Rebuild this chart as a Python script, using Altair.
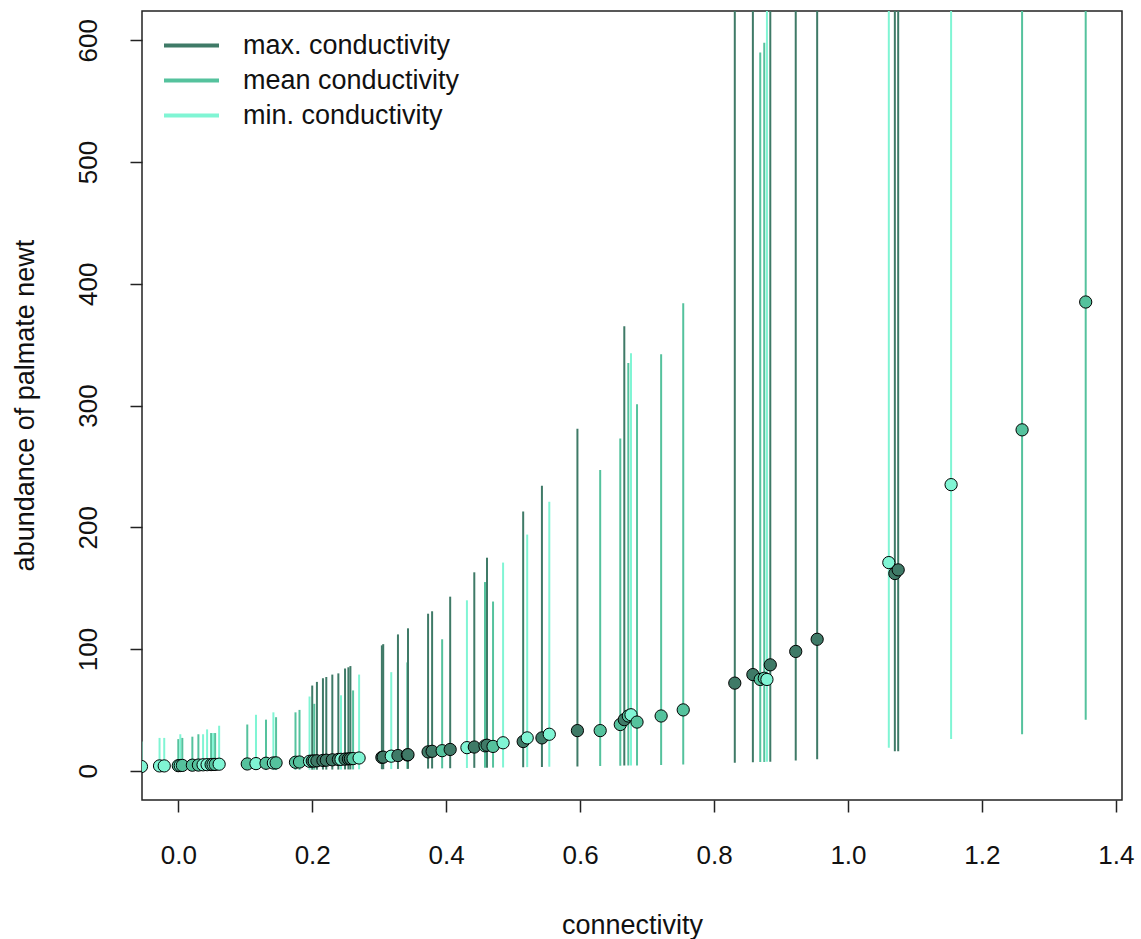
import altair as alt
import pandas as pd

# Predicted palmate newt abundance along connectivity, with interval bounds,
# for the three conductivity scenarios.
connectivity = [
    -0.055, -0.028, -0.021, 0.000, 0.003, 0.006, 0.021, 0.030, 0.037, 0.043, 0.049, 0.052, 0.055, 0.061,
    0.103, 0.116, 0.131, 0.142, 0.146,
    0.175, 0.181, 0.196, 0.200, 0.203, 0.207, 0.216, 0.221, 0.230, 0.239, 0.243, 0.249, 0.254, 0.257, 0.261, 0.270,
    0.304, 0.306, 0.318, 0.328, 0.342, 0.343,
    0.373, 0.379, 0.394, 0.406,
    0.431, 0.442, 0.458, 0.461, 0.470, 0.485,
    0.515, 0.521, 0.543, 0.554,
    0.596, 0.630, 0.660, 0.666, 0.672, 0.676, 0.685, 0.721, 0.754,
    0.831, 0.858, 0.869, 0.875, 0.879, 0.884, 0.922, 0.954,
    1.061, 1.070, 1.075, 1.154, 1.260, 1.355,
]
fitted = [
    3.5, 4.0, 4.0, 4.2, 4.3, 4.4, 4.6, 4.7, 4.9, 5.0, 5.1, 5.2, 5.2, 5.4,
    5.6, 5.9, 6.2, 6.4, 6.5,
    7.0, 7.2, 7.8, 8.0, 8.0, 8.2, 8.5, 8.7, 9.0, 9.3, 9.4, 9.6, 9.8, 9.9, 10.0, 10.5,
    11.0, 11.2, 12.0, 12.5, 13.0, 13.2,
    15.5, 16.0, 16.5, 17.5,
    19.0, 19.5, 20.5, 21.0, 20.0, 23.0,
    24.0, 27.0, 27.0, 30.0,
    33.0, 33.0, 38.0, 42.0, 45.0, 46.0, 40.0, 45.0, 50.0,
    72.0, 79.0, 75.0, 76.0, 75.0, 87.0, 98.0, 108.0,
    171.0, 162.0, 165.0, 235.0, 280.0, 385.0,
]
lower = [
    0.4, 0.4, 0.4, 0.4, 0.4, 0.4, 0.4, 0.4, 0.4, 0.4, 0.4, 0.4, 0.4, 0.4,
    0.6, 0.6, 0.6, 0.6, 0.6,
    0.8, 0.8, 0.9, 0.9, 0.9, 0.9, 1.0, 1.0, 1.0, 1.0, 1.0, 1.1, 1.1, 1.1, 1.1, 1.2,
    1.3, 1.3, 1.4, 1.5, 1.6, 1.6,
    1.8, 1.9, 2.0, 2.1,
    2.3, 2.4, 2.5, 2.5, 2.6, 2.7,
    2.9, 3.0, 3.2, 3.3,
    3.6, 3.9, 4.2, 4.3, 4.3, 4.4, 4.4, 4.8, 5.2,
    6.5, 7.0, 7.2, 7.3, 7.4, 7.5, 8.5, 9.5,
    19.0, 16.0, 16.0, 26.0, 30.0, 42.0,
]
upper = [
    24, 27, 27, 26, 30, 27, 28, 30, 30, 34, 31, 31, 31, 37,
    38, 46, 42, 48, 44,
    48, 50, 61, 70, 55, 73, 76, 77, 79, 80, 62, 84, 85, 86, 66, 79,
    103, 104, 81, 112, 89, 117,
    129, 131, 108, 143,
    140, 163, 155, 175, 139, 171,
    213, 194, 234, 221,
    281, 247, 273, 365, 335, 343, 301, 342, 384,
    1000, 1000, 590, 598, 1000, 1000, 1000, 1000,
    1000, 1000, 1000, 1000, 1000, 1000,
]
conductivity = [
    "min", "min", "min", "mean", "min", "mean", "mean", "mean", "min", "min", "mean", "min", "mean", "min",
    "mean", "min", "mean", "min", "mean",
    "mean", "mean", "min", "max", "mean", "max", "max", "max", "max", "max", "min", "max", "max", "max", "mean", "min",
    "max", "max", "min", "max", "mean", "max",
    "max", "max", "mean", "max",
    "min", "max", "mean", "max", "mean", "min",
    "max", "min", "max", "min",
    "max", "mean", "mean", "max", "mean", "min", "mean", "mean", "mean",
    "max", "max", "mean", "mean", "min", "max", "max", "max",
    "min", "max", "max", "min", "mean", "mean",
]

series_labels = {
    "max": "max. conductivity",
    "mean": "mean conductivity",
    "min": "min. conductivity",
}
series_order = ["max. conductivity", "mean conductivity", "min. conductivity"]
series_colors = ["#3f7a67", "#55c29d", "#80f5d4"]

df = pd.DataFrame({
    "connectivity": connectivity,
    "fitted": fitted,
    "lower": lower,
    "upper": upper,
    "series": [series_labels[c] for c in conductivity],
})

FONT = "Liberation Sans, Arial, sans-serif"

x_scale = alt.Scale(domain=[-0.0542, 1.4092], nice=False, zero=False)
y_scale = alt.Scale(domain=[-24, 624], nice=False, zero=False)
color_scale = alt.Scale(domain=series_order, range=series_colors)

x_axis = alt.Axis(
    values=[0.0, 0.2, 0.4, 0.6, 0.8, 1.0, 1.2, 1.4],
    format=".1f",
    domain=False,
    grid=False,
    tickSize=12,
    tickWidth=1.5,
    tickColor="#222222",
    labelFontSize=26,
    labelFont=FONT,
    labelColor="#111111",
    labelPadding=43,
    labelBaseline="middle",
    labelFlush=False,
    labelOverlap=False,
    titleFontSize=27,
    titleFont=FONT,
    titleFontWeight="normal",
    titleColor="#111111",
    titleX=490,
    titleY=125,
    titleAlign="center",
    titleBaseline="middle",
)
y_axis = alt.Axis(
    values=[0, 100, 200, 300, 400, 500, 600],
    domain=False,
    grid=False,
    tickSize=12,
    tickWidth=1.5,
    tickColor="#222222",
    labelFontSize=26,
    labelFont=FONT,
    labelColor="#111111",
    labelAngle=270,
    labelAlign="center",
    labelBaseline="middle",
    labelPadding=42,
    labelOverlap=False,
    titleFontSize=27,
    titleFont=FONT,
    titleFontWeight="normal",
    titleColor="#111111",
    titleAngle=270,
    titleX=-117,
    titleY=394,
    titleAlign="center",
    titleBaseline="middle",
)

base = alt.Chart(df)

intervals = base.mark_rule(strokeWidth=2, clip=True).encode(
    x=alt.X("connectivity:Q", scale=x_scale, axis=x_axis, title="connectivity"),
    y=alt.Y("lower:Q", scale=y_scale, axis=y_axis, title="abundance of palmate newt"),
    y2="upper:Q",
    color=alt.Color(
        "series:N",
        scale=color_scale,
        sort=series_order,
        legend=alt.Legend(
            title=None,
            orient="none",
            legendX=36,
            legendY=21,
            symbolType="M-2.5,0L2.5,0",
            symbolSize=484,
            symbolStrokeWidth=4,
            labelFontSize=27,
            labelFont=FONT,
            labelColor="#111111",
            labelOffset=38,
            labelLimit=500,
            rowPadding=7,
            padding=0,
        ),
    ),
)

points = base.mark_circle(size=150, stroke="black", strokeWidth=1, opacity=1, clip=True).encode(
    x=alt.X("connectivity:Q", scale=x_scale),
    y=alt.Y("fitted:Q", scale=y_scale),
    fill=alt.Fill("series:N", scale=color_scale, legend=None),
)

chart = (
    alt.layer(intervals, points)
    .properties(
        width=980,
        height=789,
        autosize=alt.AutoSizeParams(type="none"),
        padding={"left": 142, "top": 11, "right": 19, "bottom": 139},
        background="white",
    )
    .configure_view(stroke="#222222", strokeWidth=1.5)
)

chart.save("out.html", embed_options={"renderer": "svg", "actions": False})
